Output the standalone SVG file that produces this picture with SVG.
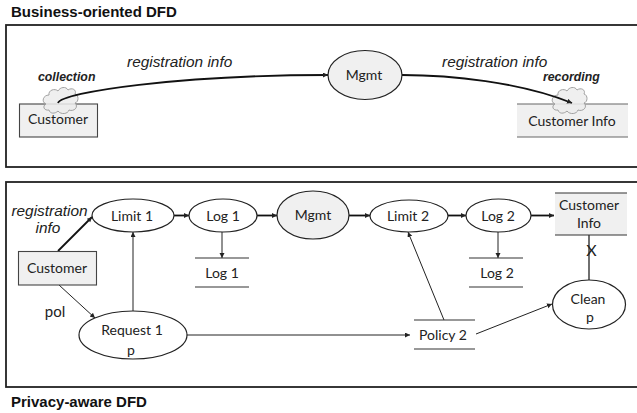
<svg xmlns="http://www.w3.org/2000/svg" width="637" height="413" viewBox="0 0 637 413">
<style>
.frame{fill:none;stroke:#222;stroke-width:1.8}
.title{font:bold 15px "Liberation Sans",Arial,sans-serif;fill:#111}
.lab{font:italic 15.400px "Liberation Sans",Arial,sans-serif;fill:#222}
.blab{font:italic bold 12.300px "Liberation Sans",Arial,sans-serif;fill:#222}
.t{font:14px Lato,"Open Sans",sans-serif;fill:#222;text-anchor:middle}
.el{fill:#fff;stroke:#222;stroke-width:1.2}
.grey{fill:#f0f0f0}
.box{fill:#f0f0f0;stroke:#444;stroke-width:1.1}
.st{stroke:#333;stroke-width:1.2;fill:none}
.c1{stroke:#222;stroke-width:1;fill:none;marker-end:url(#a)}
.c2{stroke:#111;stroke-width:1.8;fill:none;marker-end:url(#a2)}
.cloud{fill:#ececec;fill-opacity:.85;stroke:#999;stroke-width:.9}
</style>
<defs>
<marker id="a" markerUnits="userSpaceOnUse" markerWidth="6" markerHeight="6" refX="5" refY="2.500" orient="auto"><path d="M0 0L5 2.500L0 5z" fill="#222"/></marker>
<marker id="a2" markerUnits="userSpaceOnUse" markerWidth="6" markerHeight="6" refX="5" refY="2.500" orient="auto"><path d="M0 0L5 2.500L0 5z" fill="#222"/></marker>
<path id="cl" class="cloud" d="M-12 10C-17 11-19 6-15 4C-20 2-18-5-12-5C-13-10-6-12-3-9C-1-13 5-14 7-10C11-13 16-10 14-6C18-5 18 2 14 3C18 7 13 12 8 10C7 14 0 15-3 11C-6 14-11 14-12 10Z"/>
</defs>
<rect class="frame" x="6" y="25" width="640" height="142"/>
<rect class="frame" x="6" y="182" width="640" height="205"/>
<text class="title" x="11" y="17">Business-oriented DFD</text>
<text class="title" x="11" y="407">Privacy-aware DFD</text>
<g id="customer-top"><rect class="box" x="19.500" y="104" width="78" height="33"/><text class="t" x="58" y="124">Customer</text></g>
<g id="customer-info-top"><rect class="grey" x="517" y="104" width="111" height="33"/><path class="st" style="stroke:#666" d="M517 104H628M517 137H628"/><text class="t" x="572" y="125.500">Customer Info</text></g>
<use href="#cl" x="61" y="100"/>
<use href="#cl" x="570" y="100"/>
<g id="connectors">
<path class="c2" d="M58 103C62 92 180 75 328 75"/>
<path class="c2" d="M402 75C450 75 520 82 572 103"/>
<path class="c2" d="M58 251L92 217"/>
<path class="c1" d="M59 285L95 318"/>
<path class="c2" d="M174 215.500H189"/>
<path class="c2" d="M257 215.500H277"/>
<path class="c2" d="M349 215.500H370"/>
<path class="c2" d="M448 215.500H466"/>
<path class="c2" d="M531 215.500H554"/>
<path class="c1" d="M133 311V232"/>
<path class="c1" d="M222 232V258"/>
<path class="c1" d="M498 232V258"/>
<path class="c1" d="M187 335H410"/>
<path class="c1" d="M444 320L408 232"/>
<path class="c1" d="M476 334L552 304"/>
<path d="M589 235V280" stroke="#222" stroke-width="1.300" fill="none"/>
</g>
<text class="blab" x="38" y="81">collection</text>
<text class="blab" x="543" y="81">recording</text>
<text class="lab" x="127" y="67">registration info</text>
<text class="lab" x="442" y="67">registration info</text>
<g id="mgmt-top"><ellipse class="el grey" cx="365" cy="75" rx="37" ry="24.500"/><text class="t" x="364" y="80">Mgmt</text></g>
<g id="customer-bottom"><rect class="box" x="18.500" y="251.500" width="78" height="33.500"/><text class="t" x="57" y="273">Customer</text></g>
<g id="limit1"><ellipse class="el" cx="133" cy="215.500" rx="41" ry="16.500"/><text class="t" x="132" y="220.500">Limit 1</text></g>
<g id="log1"><ellipse class="el" cx="223" cy="215.500" rx="34" ry="16.500"/><text class="t" x="223" y="220.500">Log 1</text></g>
<g id="mgmt-bottom"><ellipse class="el grey" cx="313" cy="215" rx="36" ry="24"/><text class="t" x="313" y="220">Mgmt</text></g>
<g id="limit2"><ellipse class="el" cx="409" cy="216" rx="39" ry="16"/><text class="t" x="408" y="221">Limit 2</text></g>
<g id="log2"><ellipse class="el" cx="498.500" cy="215.500" rx="32.500" ry="16.500"/><text class="t" x="498" y="220.500">Log 2</text></g>
<g id="customer-info-bottom"><rect class="grey" x="555" y="193" width="72" height="42"/><path class="st" d="M555 193H627M555 235H627"/><text class="t" x="589" y="210">Customer</text><text class="t" x="589" y="228">Info</text></g>
<g id="log1-store"><path class="st" d="M195 258H249M195 287H249"/><text class="t" x="222" y="278">Log 1</text></g>
<g id="log2-store"><path class="st" d="M469 258H523M469 287H523"/><text class="t" x="497" y="278">Log 2</text></g>
<g id="policy2"><path class="st" d="M414 320H475M414 349H475"/><text class="t" x="443" y="340">Policy 2</text></g>
<g id="clean"><ellipse class="el" cx="589" cy="304.500" rx="36.500" ry="24.500"/><text class="t" x="588" y="304">Clean</text><text class="t" x="590" y="322">p</text></g>
<g id="request1"><ellipse class="el" cx="133" cy="335" rx="54" ry="24"/><text class="t" x="132" y="335">Request 1</text><text class="t" x="131" y="355">p</text></g>
<text class="lab" x="49.500" y="216" text-anchor="middle">registration</text>
<text class="lab" x="48" y="233" text-anchor="middle">info</text>
<text class="t" x="55" y="317" style="font-size:15px">pol</text>
<text class="t" x="591.500" y="256" style="font-size:16px">X</text>
</svg>
